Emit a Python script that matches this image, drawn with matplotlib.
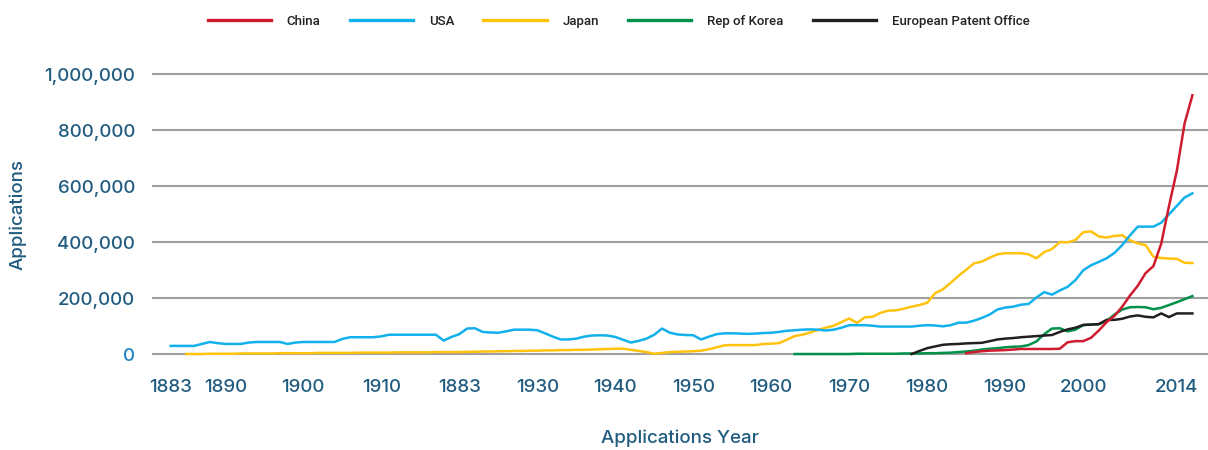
import matplotlib
matplotlib.use('agg')
import matplotlib.pyplot as plt
import numpy as np
from matplotlib.ticker import FuncFormatter

# annual patent applications by office
usa_years = np.arange(1883, 2015)
usa = [30, 30, 30, 30, 37, 44, 40, 37, 37, 37,
       42, 44, 44, 44, 44, 37, 42, 44, 44, 44,
       44, 44, 55, 61, 61, 61, 61, 64, 70, 70,
       70, 70, 70, 70, 70, 49, 62, 72, 92, 93,
       80, 78, 77, 82, 88, 88, 88, 86, 75, 63,
       53, 53, 56, 63, 67, 68, 67, 62, 52, 42,
       48, 56, 70, 92, 77, 71, 69, 68, 53, 63,
       72, 75, 75, 74, 73, 74, 76, 77, 80, 84,
       86, 88, 89, 88, 85, 88, 95, 104, 104, 104,
       102, 99, 99, 99, 99, 99, 102, 104, 103, 100,
       104, 113, 113, 120, 130, 142, 160, 167, 170, 177,
       180, 203, 222, 213, 228, 241, 265, 300, 318, 330,
       343, 362, 390, 425, 456, 456, 456, 470, 500, 530,
       560, 575]

japan_years = np.arange(1885, 2015)
japan = [1, 1, 1, 2, 2, 2, 2, 3, 3, 3,
         3, 3, 4, 4, 4, 4, 4, 5, 5, 5,
         5, 5, 6, 6, 6, 6, 6, 7, 7, 7,
         7, 7, 8, 8, 8, 8, 9, 9, 10, 10,
         11, 11, 12, 12, 13, 13, 14, 14, 15, 15,
         16, 16, 17, 18, 19, 20, 20, 16, 12, 8,
         2, 5, 8, 9, 10, 11, 13, 18, 25, 32,
         33, 33, 33, 33, 37, 38, 40, 52, 65, 70,
         78, 87, 95, 102, 115, 128, 112, 132, 134, 148,
         156, 157, 163, 170, 176, 184, 218, 232, 255, 280,
         302, 325, 331, 345, 357, 361, 361, 361, 357, 343,
         365, 376, 401, 400, 408, 436, 439, 421, 417, 423,
         425, 407, 396, 390, 348, 344, 342, 341, 327, 326]

korea_years = np.arange(1963, 2015)
korea = [1, 1, 1, 1, 1, 1, 1, 1, 2, 2,
         2, 2, 2, 2, 3, 3, 3, 4, 4, 5,
         6, 8, 10, 13, 17, 20, 22, 25, 27, 28,
         33, 46, 72, 92, 93, 82, 88, 104, 107, 107,
         119, 142, 160, 168, 169, 168, 161, 166, 176, 186,
         197, 208]

epo_years = np.arange(1978, 2015)
epo = [1, 12, 22, 28, 34, 36, 37, 39, 40, 41,
       47, 53, 56, 58, 61, 63, 65, 67, 69, 80,
       89, 95, 105, 106, 108, 123, 123, 127, 135, 139,
       134, 132, 146, 133, 146, 146, 146]

china_years = np.arange(1985, 2015)
china = [4, 8, 11, 13, 14, 15, 17, 19, 19, 19,
         19, 19, 20, 43, 47, 47, 59, 85, 115, 137,
         170, 210, 245, 290, 315, 395, 530, 655, 825, 925]

tick_years = [1883, 1890, 1900, 1910, 1920, 1930, 1940, 1950, 1960,
              1970, 1980, 1990, 2000, 2012]
tick_labels = ['1883', '1890', '1900', '1910', '1883', '1930', '1940',
               '1950', '1960', '1970', '1980', '1990', '2000', '2014']

TICK_COLOR = '#215c80'
FONT = ['Inter', 'DejaVu Sans']

fig = plt.figure(figsize=(12.08, 4.5), dpi=100)
ax = fig.add_axes([152 / 1208, 0.2002, 1 - 152 / 1208, 0.6471])

series = [
    ('Japan', japan_years, japan, '#ffc20e'),
    ('USA', usa_years, usa, '#12b1eb'),
    ('Rep of Korea', korea_years, korea, '#00914b'),
    ('European Patent Office', epo_years, epo, '#231f20'),
    ('China', china_years, china, '#d01b2e'),
]
handles = {}
for name, yrs, vals, col in series:
    h, = ax.plot(yrs, np.array(vals) * 1000, color=col, lw=1.8,
                 solid_joinstyle='round', zorder=3)
    handles[name] = h

ax.set_xlim(1880.6, 2016.0)
ax.set_ylim(-20000, 1020000)
ax.set_yticks(np.arange(0, 1000001, 200000))
ax.yaxis.set_major_formatter(FuncFormatter(lambda v, p: '{:,.0f}'.format(v)))
ax.set_xticks(tick_years)
ax.set_xticklabels(tick_labels)
ax.grid(axis='y', color='#a0a0a0', lw=1.5, zorder=1)
ax.set_axisbelow(True)
for s in ax.spines.values():
    s.set_visible(False)
ax.tick_params(length=0, labelsize=13.5, labelcolor=TICK_COLOR)
ax.tick_params(axis='x', pad=14)
ax.tick_params(axis='y', pad=12)
for lab in ax.get_xticklabels() + ax.get_yticklabels():
    lab.set_family(FONT)
    lab.set_fontweight('medium')
ax.get_yticklabels()[0].set_color('#1b84c6')

ax.set_xlabel('Applications Year', fontsize=13.5, color=TICK_COLOR,
              family=FONT, fontweight='medium', labelpad=24)
ax.set_ylabel('Applications', fontsize=13.5, color=TICK_COLOR,
              family=FONT, fontweight='medium')
ax.yaxis.set_label_coords(-0.119, 0.5)

order = ['China', 'USA', 'Japan', 'Rep of Korea', 'European Patent Office']
leg = fig.legend([handles[n] for n in order], order, loc='center',
                 bbox_to_anchor=(0.512, 0.953), ncol=5, frameon=False,
                 handlelength=4.8, handletextpad=1.2, columnspacing=2.2,
                 prop={'family': ['Roboto', 'DejaVu Sans'], 'size': 9.5,
                       'weight': 'medium'})
for t in leg.get_texts():
    t.set_color('#222222')
for l in leg.get_lines():
    l.set_linewidth(2.4)

fig.savefig('out.png', dpi=100)
